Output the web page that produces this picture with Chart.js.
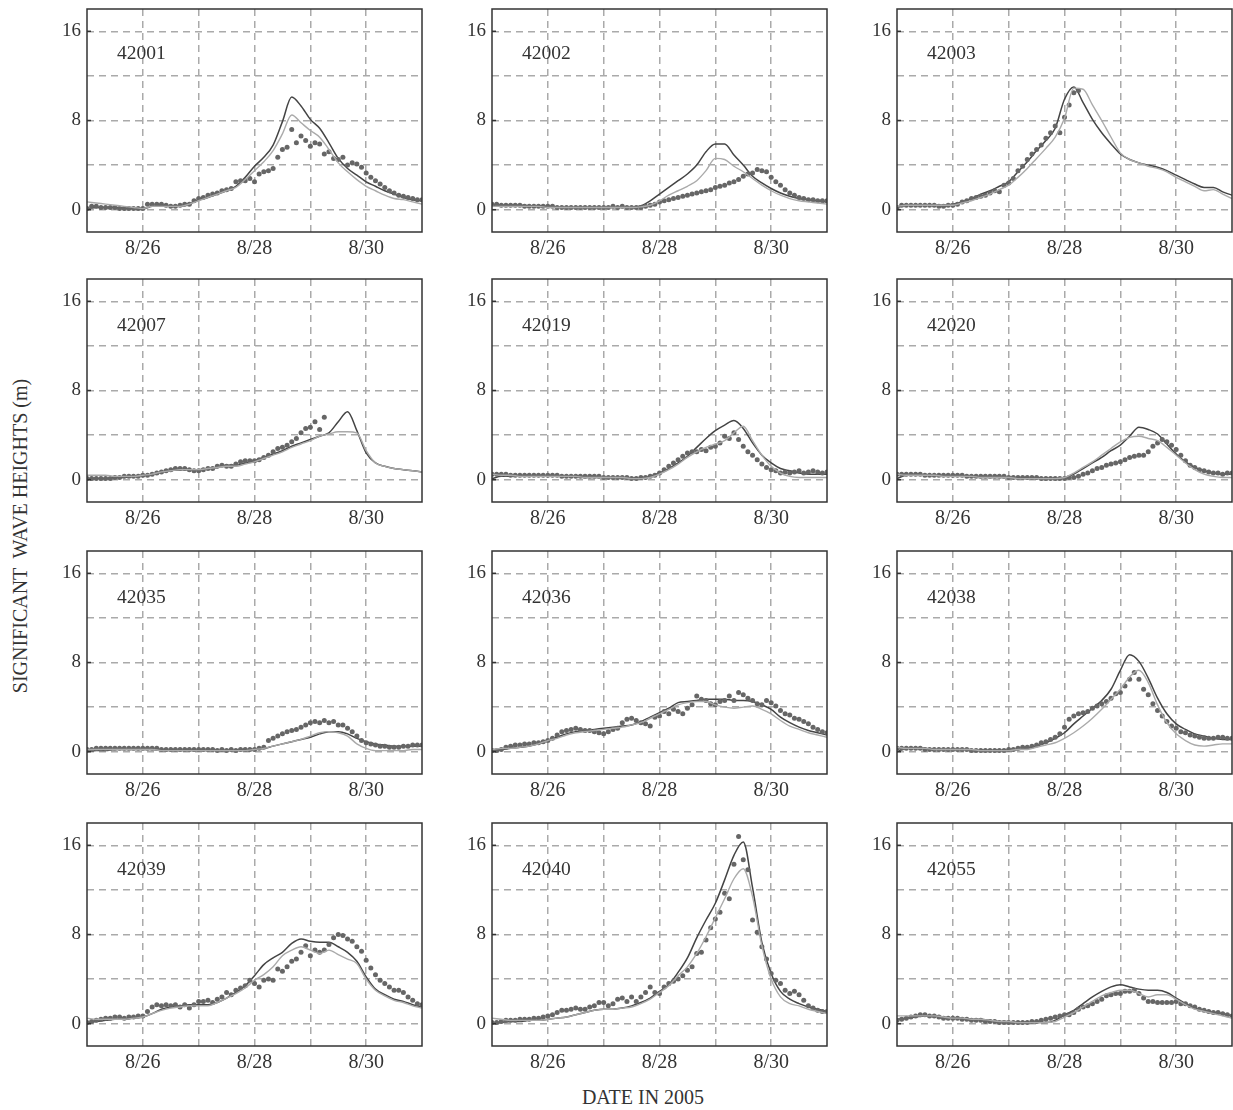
<!DOCTYPE html>
<html>
<head>
<meta charset="utf-8">
<title>Significant wave heights</title>
<script src="https://cdn.jsdelivr.net/npm/chart.js@4"></script>
<style>
  html, body { margin: 0; background: #fff; overflow: hidden; }
  body { width: 1233px; height: 1110px; position: relative; font-family: "Liberation Serif", serif; color: #333; }
  canvas { position: absolute; }
  .ytitle { position: absolute; left: 20px; top: 536px; transform: translate(-50%, -50%) rotate(-90deg); font-size: 20px; white-space: pre; }
  .xtitle { position: absolute; left: 643px; top: 1097px; transform: translate(-50%, -50%); font-size: 20px; white-space: pre; }
</style>
</head>
<body>
<div class="ytitle">SIGNIFICANT  WAVE HEIGHTS (m)</div>
<div class="xtitle">DATE IN 2005</div>
<script>
// hours since 8/25 00:00
const lineHours = [0,4,8,12,16,20,24,28,32,36,40,44,48,52,56,60,64,68,72,76,80,84,88,92,96,100,104,108,112,116,120,124,128,132,136,140,144];
const obsHours = [0,2,4,6,8,10,12,14,16,18,20,22,24,26,28,30,32,34,36,38,40,42,44,46,48,50,52,54,56,58,60,62,64,66,68,70,72,74,76,78,80,82,84,86,88,90,92,94,96,98,100,102,104,106,108,110,112,114,116,118,120,122,124,126,128,130,132,134,136,138,140,142,144];
const xTickHours = [24,48,72,96,120];
const xTickLabels = ["8/26","","8/28","","8/30"];
const yTickValues = [0,4,8,12,16];
const yTickLabels = ["0","","8","","16"];

const stations = ["42001","42002","42003","42007","42019","42020","42035","42036","42038","42039","42040","42055"];

const dark42001 = [.1,.2,.2,.2,.15,.1,.1,.3,.35,.3,.3,.5,.9,1.1,1.4,1.7,2.1,2.9,3.9,4.7,5.8,7.9,10.1,9.3,8.1,7.3,6,4.6,3.7,3.1,2.5,2.1,1.7,1.4,1.1,.9,.8];
const grey42001 = [.7,.6,.5,.4,.3,.2,.1,.3,.3,.3,.3,.5,.8,1.1,1.4,1.7,2,2.7,3.5,4.3,5.3,6.8,8.5,7.8,7.1,6.5,5.4,4.2,3.4,2.7,2.1,1.7,1.3,1,.9,.7,.5];
const obs42001 = [.1,.3,.3,.2,.2,.2,.2,.1,.1,.1,.1,.1, .1,.5,.5,.5,.5,.4,.3,.3,.4,.5,.5,.8, 1,1.1,1.3,1.4,1.5,1.7,1.8,1.9,2.5,2.6,2.6,2.8, 2.5,3.2,3.4,3.5,3.7,4.7,5.4,5.6,7.2,6,6.6,6.2, 5.7,6,5.9,5,5.2,4.6,4.5,4.7,4,4.2,4.1,3.8, 3.3,2.9,2.6,2.3,2,1.7,1.5,1.3,1.2,1.1,1,.9,.9];

const dark42002 = [.4,.4,.4,.4,.35,.3,.3,.25,.2,.2,.2,.2,.2,.2,.2,.2,.35,.8,1.4,2,2.6,3.2,4,5.2,5.9,5.9,4.9,4,3,2.4,1.9,1.5,1.2,1,.9,.8,.7];
const grey42002 = [.3,.3,.3,.3,.3,.3,.2,.2,.2,.2,.2,.2,.2,.2,.2,.2,.25,.4,.8,1.3,1.7,2.1,2.6,3.5,4.6,4.5,3.9,3.4,2.8,2.2,1.7,1.3,1,.8,.7,.6,.5];
const obs42002 = [.5,.5,.4,.4,.4,.4,.4,.3,.3,.3,.3,.3, .3,.3,.2,.2,.2,.2,.2,.2,.2,.2,.2,.2, .2,.2,.3,.2,.3,.2,.2,.2,.2,.3,.4,.5, .7,.8,.9,1,1.1,1.2,1.3,1.4,1.5,1.6,1.7,1.8, 2,2.1,2.2,2.4,2.5,2.7,3,3.2,3.3,3.6,3.5,3.4, 2.9,2.5,2.2,1.8,1.5,1.3,1.1,1,.9,.9,.8,.8,.8];

const dark42003 = [.2,.4,.4,.4,.4,.4,.5,.7,1,1.4,1.7,2.1,2.5,3.4,4.3,5.3,6.2,7.3,9.9,11,9.6,8.1,6.9,5.9,5,4.5,4.2,4,3.8,3.5,3.1,2.7,2.3,2,2,1.6,1.3];
const grey42003 = [.3,.4,.4,.4,.4,.4,.4,.6,.8,1.1,1.4,1.8,2.2,2.9,3.7,4.6,5.5,6.5,8.2,10.9,10.8,9.4,8,6.5,5.1,4.5,4.2,3.9,3.7,3.4,2.9,2.5,2.1,1.7,1.8,1.4,1];
const obs42003 = [.2,.4,.4,.4,.4,.4,.4,.4,.4,.3,.3,.4, .4,.5,.7,.8,1,1.1,1.2,1.3,1.5,1.7,1.6,2.2, 2.4,2.8,3.5,3.9,4.5,5,5.4,5.8,6.4,6.9,7.5,6.9, 8.3,9.4,10.5,10.7];

const dark42007 = [.1,.1,.1,.2,.2,.3,.4,.5,.7,.8,.9,.9,.9,1,1.1,1.3,1.3,1.5,1.7,2,2.3,2.6,3,3.3,3.6,3.9,4.2,5.2,6.1,4.4,2.4,1.5,1.2,1,.9,.8,.7];
const grey42007 = [.4,.4,.4,.3,.3,.3,.4,.5,.7,.8,.9,.9,.9,1,1.1,1.2,1.2,1.4,1.6,1.9,2.2,2.5,2.9,3.2,3.5,3.9,4.1,4.3,4.3,4.2,2.6,1.5,1.2,1,.9,.8,.7];
const obs42007 = [.1,.1,.1,.1,.1,.1,.2,.2,.3,.3,.3,.3, .4,.4,.5,.6,.7,.8,.9,1,1,1,.9,.8, .8,.9,1,1,1.2,1.3,1.2,1.2,1.4,1.6,1.7,1.7, 1.7,1.8,2,2.2,2.5,2.8,2.9,3.1,3.4,3.7,4.2,4.6, 4.7,5.2,4.5,5.6];

const dark42019 = [.1,.3,.3,.3,.3,.3,.3,.3,.3,.3,.2,.2,.2,.2,.2,.1,.1,.3,.6,1,1.5,2.1,2.9,3.7,4.4,4.9,5.3,4.6,3.3,2.2,1.5,1,.8,.6,.5,.5,.5];
const grey42019 = [.5,.4,.4,.3,.3,.3,.3,.3,.3,.3,.2,.2,.2,.2,.2,.1,.1,.2,.5,.9,1.4,2,2.5,2.9,3.2,3.5,4.2,4.8,3.5,2.2,1.2,.6,.3,.2,.2,.2,.2];
const obs42019 = [.5,.5,.5,.5,.4,.4,.4,.4,.4,.4,.4,.4, .4,.4,.4,.3,.3,.3,.3,.3,.3,.3,.3,.3, .2,.2,.2,.2,.2,.2,.1,.1,.2,.2,.3,.4, .6,.9,1.2,1.5,1.8,2.1,2.4,2.5,2.5,2.7,2.6,2.9, 3,3.3,3.9,3.7,4.2,3.6,3,2.5,2.2,1.8,1.4,1.1, .9,.8,.6,.7,.6,.7,.8,.6,.7,.8,.7,.6,.7];

const dark42020 = [.1,.4,.4,.4,.4,.3,.3,.3,.3,.2,.2,.2,.2,.1,.1,.1,.1,.1,.2,.5,1,1.5,2,2.6,3.1,3.9,4.7,4.5,4.1,3.2,2.3,1.6,1.1,.8,.6,.5,.5];
const grey42020 = [.5,.4,.4,.4,.4,.3,.3,.3,.3,.2,.2,.2,.2,.1,.1,.1,.1,.1,.2,.6,1.1,1.6,2.2,2.8,3.4,3.8,3.9,3.7,3.5,2.9,2.2,1.5,.9,.5,.3,.2,.2];
const obs42020 = [.5,.5,.5,.5,.5,.5,.4,.4,.4,.4,.4,.4, .4,.4,.4,.3,.3,.3,.3,.3,.3,.3,.3,.3, .2,.2,.2,.2,.2,.2,.2,.1,.1,.1,.1,.1, .1,.2,.2,.3,.5,.6,.8,1,1.1,1.3,1.4,1.5, 1.6,1.8,2,2.1,2.2,2.2,2.5,3,3.3,3.6,3.4,3.1, 2.7,2.2,1.7,1.3,1.1,.9,.8,.7,.6,.6,.5,.6,.6];

const dark42035 = [0,.1,.1,.2,.2,.2,.2,.2,.1,.1,.1,.1,.1,.1,.1,.1,.1,.1,.2,.3,.5,.7,.9,1.1,1.3,1.6,1.8,1.8,1.6,1.2,.9,.7,.6,.5,.5,.5,.5];
const grey42035 = [.2,.2,.2,.2,.2,.2,.2,.2,.1,.1,.1,.1,.1,.1,.1,.1,.1,.1,.2,.3,.5,.7,.9,1.1,1.4,1.7,1.8,1.7,1.4,.7,.3,.1,.1,.1,.1,.2,.2];
const obs42035 = [.2,.2,.3,.3,.3,.3,.3,.3,.3,.3,.3,.3, .3,.3,.3,.3,.2,.2,.2,.2,.2,.2,.2,.2, .2,.2,.2,.2,.1,.2,.1,.2,.1,.2,.2,.2, .2,.3,.4,1,1.2,1.4,1.6,1.8,1.9,2,2.2,2.4, 2.6,2.7,2.6,2.8,2.6,2.7,2.4,2.4,2.1,1.8,1.4,1, .8,.7,.6,.5,.5,.4,.4,.4,.5,.5,.6,.6,.6];

const dark42036 = [0,.2,.3,.4,.5,.7,1,1.3,1.6,1.8,1.9,2,2.1,2.2,2.3,2.4,2.7,3.1,3.5,3.9,4.4,4.5,4.6,4.7,4.7,4.7,4.6,4.6,4.5,4.2,3.8,3.1,2.6,2.2,1.9,1.7,1.5];
const grey42036 = [.2,.3,.3,.4,.5,.7,1,1.2,1.5,1.7,1.8,1.9,2,2.1,2.2,2.4,2.6,3,3.4,3.8,4.2,4.4,4.5,4.5,4.2,4,3.9,4,4.1,3.8,3.4,2.8,2.3,2,1.7,1.5,1.3];
const obs42036 = [.1,.1,.2,.4,.5,.6,.6,.7,.7,.8,.8,.9, 1,1.2,1.5,1.8,1.9,2,2.1,2,1.9,1.9,1.8,1.7, 1.6,1.8,2,2.1,2.6,2.9,3,2.8,2.6,2.5,2.3,3.1, 3.2,3.6,3.4,3.8,3.6,3.4,3.9,4.2,5,4.7,4.6,4.3, 4.2,4.5,4.6,5,4.6,5.3,5.1,4.8,4.6,4.3,4.2,4.6, 4.4,4.1,3.7,3.4,3.3,3,2.9,2.7,2.5,2.2,2,1.8,1.7];

const dark42038 = [0,.3,.3,.3,.2,.2,.2,.2,.2,.1,.1,.1,.1,.2,.3,.5,.8,1.2,1.7,2.5,3.2,3.9,4.6,5.6,7.3,8.7,8.1,6.6,4.8,3.4,2.5,2,1.6,1.4,1.2,1.1,1.1];
const grey42038 = [.4,.3,.3,.3,.2,.2,.2,.2,.2,.1,.1,.1,.1,.2,.2,.4,.6,.8,1.2,1.7,2.3,3,3.8,4.7,5.6,6.7,7.3,6.2,4.2,2.6,1.6,1,.6,.5,.6,.7,.7];
const obs42038 = [.3,.3,.3,.3,.3,.3,.2,.2,.2,.2,.2,.2, .2,.2,.2,.2,.1,.1,.1,.1,.1,.1,.1,.1, .2,.2,.3,.4,.4,.5,.6,.8,.9,1.1,1.3,1.6, 2.2,2.9,3.2,3.4,3.5,3.6,3.9,4.1,4.3,4.5,4.8,5.2, 5.3,5.9,6.5,7.1,6.5,5.6,5.1,4.3,3.7,3.2,2.7,2.3, 2.1,1.8,1.7,1.5,1.4,1.3,1.2,1.2,1.2,1.3,1.3,1.2,1.2];

const dark42039 = [.1,.2,.3,.4,.4,.5,.6,.9,1.3,1.5,1.6,1.7,1.7,1.7,1.9,2.3,2.8,3.4,4.3,5.3,5.9,6.4,7.2,7.6,7.4,7.3,7.3,6.9,6.4,5.6,4.2,3.1,2.6,2.2,2,1.7,1.5];
const grey42039 = [.5,.4,.4,.4,.4,.5,.6,.9,1.2,1.4,1.5,1.6,1.6,1.6,1.9,2.3,2.7,3.2,3.9,4.4,5.1,6.1,6.6,6.9,6.6,6.3,6.6,6.2,5.8,5.4,4,3,2.5,2.1,1.9,1.6,1.4];
const obs42039 = [.1,.2,.3,.4,.5,.5,.6,.6,.5,.6,.6,.7, .7,1.1,1.5,1.7,1.6,1.7,1.6,1.7,1.5,1.7,1.4,1.7, 2,2,2.1,1.9,2.2,2.4,2.8,2.6,3,3.2,3.4,3.9, 3.6,3.3,3.9,4,3.9,4.9,4.7,5.1,5.6,5.8,6.4,7, 6.1,6.6,6.4,6.6,7.1,7.7,8,7.9,7.6,7.4,6.9,6.5, 5.7,5,4.4,3.9,3.6,3.3,3,3,2.8,2.4,2.1,1.8,1.7];

const dark42040 = [0,.1,.2,.2,.3,.3,.4,.5,.6,.8,1,1.2,1.3,1.3,1.4,1.6,1.9,2.3,2.9,3.5,4.6,5.9,7.7,9.3,10.8,12.9,15.1,16.3,12.2,7.3,4.5,2.9,2.2,1.8,1.5,1.3,1.1];
const grey42040 = [.5,.4,.3,.3,.3,.3,.4,.5,.6,.8,1,1.2,1.3,1.3,1.4,1.5,1.8,2.2,2.8,3.4,4.3,5.1,6.3,7.8,9.5,11.2,13,13.9,11.4,7,4,2.4,1.8,1.6,1.3,1.1,.9];
const obs42040 = [.1,.1,.2,.3,.3,.3,.4,.4,.4,.5,.5,.6, .7,.8,1,1.2,1.2,1.3,1.4,1.3,1.3,1.5,1.6,1.9, 1.9,1.6,1.8,2.2,2.3,2,2.4,2,2.4,2.8,3.3,2.8, 2.7,3.3,3.6,3.8,4,4.3,4.8,5.1,6.3,6.4,7.5,8.6, 9.4,10,11.7,11.2,14.3,16.8,14.7,13.8,9.3,8.2,6.9,5.8, 4.5,3.9,3.6,3,2.7,2.9,2.6,2.1,1.6,1.4,1.2,1.1,1.1];

const dark42055 = [.4,.5,.6,.7,.7,.6,.5,.5,.4,.4,.3,.2,.2,.1,.1,.1,.1,.3,.8,1.2,1.8,2.4,2.9,3.3,3.5,3.3,3.1,3,3,2.8,2.3,1.8,1.4,1.2,1,.9,.7];
const grey42055 = [.7,.7,.7,.7,.7,.6,.5,.5,.4,.4,.3,.2,.2,.1,.1,.1,.1,.2,.6,1,1.5,2,2.5,2.8,3,3,2.7,2.4,2.6,2.6,2.2,1.7,1.3,1.1,.9,.7,.5];
const obs42055 = [.3,.4,.5,.6,.7,.8,.8,.7,.7,.6,.5,.5, .5,.5,.4,.4,.3,.3,.3,.2,.2,.2,.1,.1, .1,.1,.1,.1,.1,.2,.2,.3,.4,.5,.6,.7, .8,.8,1,1.3,1.5,1.6,1.8,2,2.2,2.5,2.6,2.7, 2.7,2.9,2.9,3,2.7,2.3,2,2,1.9,1.9,1.9,1.9, 2,1.8,1.8,1.6,1.5,1.3,1.2,1.1,1,1,.9,.8,.7];

const darkSeries = [dark42001,dark42002,dark42003,dark42007,dark42019,dark42020,dark42035,dark42036,dark42038,dark42039,dark42040,dark42055];
const greySeries = [grey42001,grey42002,grey42003,grey42007,grey42019,grey42020,grey42035,grey42036,grey42038,grey42039,grey42040,grey42055];
const obsSeries = [obs42001,obs42002,obs42003,obs42007,obs42019,obs42020,obs42035,obs42036,obs42038,obs42039,obs42040,obs42055];

const plotLefts = [87, 492, 897];
const plotTops = [9, 279, 551, 823];
const labelDrops = [45, 47, 47, 47];
const plotW = 335, plotH = 223;
const padL = 60, padT = 5, padR = 1, padB = 36;

// frame, short ticks at the labelled values, station number
const framePlugin = {
  id: "frame",
  afterDraw(chart) {
    const { ctx, chartArea: a, scales } = chart;
    const { station, drop } = chart.options.plugins.frame;
    ctx.save();
    ctx.strokeStyle = "#333";
    ctx.lineWidth = 1.5;
    ctx.strokeRect(a.left, a.top, a.right - a.left, a.bottom - a.top);
    yTickValues.forEach((v, i) => {
      if (!yTickLabels[i]) return;
      const y = scales.y.getPixelForValue(v);
      ctx.beginPath();
      ctx.moveTo(a.left, y);
      ctx.lineTo(a.left + 4, y);
      ctx.stroke();
    });
    ctx.fillStyle = "#333";
    ctx.font = "19.5px 'Liberation Serif'";
    ctx.textBaseline = "middle";
    ctx.fillText(station, a.left + 30, a.top + drop);
    ctx.restore();
  },
};

stations.forEach((station, n) => {
  const col = n % 3, row = Math.floor(n / 3);
  const canvas = document.createElement("canvas");
  canvas.width = padL + plotW + padR;
  canvas.height = padT + plotH + padB;
  canvas.style.left = plotLefts[col] - padL + "px";
  canvas.style.top = plotTops[row] - padT + "px";
  document.body.appendChild(canvas);

  new Chart(canvas.getContext("2d"), {
    type: "line",
    data: {
      datasets: [
        {
          data: greySeries[n].map((v, i) => ({ x: lineHours[i], y: v })),
          borderColor: "#aaa", borderWidth: 1.4, pointRadius: 0, cubicInterpolationMode: "monotone",
        },
        {
          data: obsSeries[n].map((v, i) => ({ x: obsHours[i], y: v })),
          showLine: false, pointRadius: 2.5, pointBorderWidth: 0, pointBackgroundColor: "#666",
        },
        {
          data: darkSeries[n].map((v, i) => ({ x: lineHours[i], y: v })),
          borderColor: "#444", borderWidth: 1.5, pointRadius: 0, cubicInterpolationMode: "monotone",
        },
      ],
    },
    options: {
      responsive: false,
      animation: false,
      devicePixelRatio: 1,
      layout: { autoPadding: false, padding: { top: padT, right: padR, left: 0, bottom: 0 } },
      plugins: { legend: { display: false }, tooltip: { enabled: false }, frame: { station, drop: labelDrops[row] } },
      scales: {
        x: {
          type: "linear", min: 0, max: 144,
          afterBuildTicks: (s) => { s.ticks = xTickHours.map((value) => ({ value })); },
          afterFit: (s) => { s.height = padB; s.paddingLeft = 0; s.paddingRight = 0; },
          grid: { color: "#aaa", lineWidth: 1.5, drawTicks: false },
          border: { display: false, dash: [7, 5] },
          ticks: {
            autoSkip: false, maxRotation: 0, padding: 5, color: "#333",
            font: { family: "'Liberation Serif'", size: 20 },
            callback: (v) => xTickLabels[xTickHours.indexOf(v)],
          },
        },
        y: {
          min: -2, max: 18,
          afterBuildTicks: (s) => { s.ticks = yTickValues.map((value) => ({ value })); },
          afterFit: (s) => { s.width = padL; s.paddingTop = 0; s.paddingBottom = 0; },
          grid: { color: "#aaa", lineWidth: 1.5, drawTicks: false },
          border: { display: false, dash: [7, 5] },
          ticks: {
            autoSkip: false, padding: 6, color: "#333",
            font: { family: "'Liberation Serif'", size: 19 },
            callback: (v) => yTickLabels[yTickValues.indexOf(v)],
          },
        },
      },
    },
    plugins: [framePlugin],
  });
});
</script>
</body>
</html>
